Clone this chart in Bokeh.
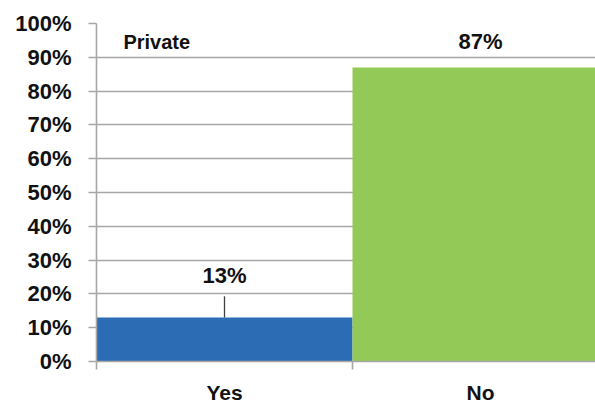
from bokeh.plotting import figure
from bokeh.models import ColumnDataSource, FixedTicker, Range1d, Label
from bokeh.core.properties import value
from bokeh.embed import file_html
from bokeh.resources import INLINE

# ---- data ----
categories = ["Yes", "No"]
percent = [13, 87]
labels = ["13%", "87%"]
panel_title = "Private"
y_ticks = [0, 10, 20, 30, 40, 50, 60, 70, 80, 90, 100]

# ---- styles ----
bar_colors = ["#2b6cb5", "#92c957"]
label_offsets = [-30, -13]
FONT = "Liberation Sans"
GRID = "#a6a6a6"

xs = [i + 0.5 for i in range(len(categories))]

p = figure(width=595, height=406, output_backend="svg", toolbar_location=None,
           x_range=Range1d(0, 499 / 256), y_range=Range1d(0, 100),
           min_border_left=96, min_border_right=0, min_border_top=23, min_border_bottom=40)
p.outline_line_color = None
p.background_fill_color = "white"
p.border_fill_color = "white"

src = ColumnDataSource(dict(x=xs, top=percent, color=bar_colors, label=labels, off=label_offsets))
p.vbar(x="x", top="top", width=1.0, fill_color="color", line_color=None, source=src)

# leader line for first bar
p.segment(x0=[xs[0]], y0=[percent[0]], x1=[xs[0]], y1=[percent[0] + 6.3],
          line_color="#404040", line_width=1.3)

p.text(x="x", y="top", text="label", y_offset="off", source=src,
       text_align="center", text_baseline="bottom",
       text_font=value(FONT), text_font_style="bold", text_font_size="22px",
       text_color="#111111")

p.add_layout(Label(x=0.105, y=94.6, x_units="data", y_units="data",
                   text=panel_title, text_font=FONT, text_font_style="bold",
                   text_font_size="20px", text_color="#111111", text_baseline="alphabetic"))

# grid
p.xgrid.visible = False
p.ygrid.ticker = FixedTicker(ticks=y_ticks)
p.ygrid.grid_line_color = GRID
p.ygrid.grid_line_width = 1.6
p.ygrid.level = "underlay"

# y axis
ya = p.yaxis[0]
ya.ticker = FixedTicker(ticks=y_ticks)
ya.major_label_overrides = {t: f"{t}%" for t in y_ticks}
ya.major_label_text_font = FONT
ya.major_label_text_font_style = "bold"
ya.major_label_text_font_size = "22px"
ya.major_label_text_color = "#111111"
ya.axis_line_color = GRID
ya.axis_line_width = 1.6
ya.major_tick_line_color = GRID
ya.major_tick_line_width = 1.6
ya.major_tick_out = 8
ya.major_tick_in = 0
ya.minor_tick_line_color = None
ya.major_label_standoff = 17

# x axis
xa = p.xaxis[0]
xa.ticker = FixedTicker(ticks=xs, minor_ticks=[0, 1, 2])
xa.major_label_overrides = {x: c for x, c in zip(xs, categories)}
xa.major_label_text_font = FONT
xa.major_label_text_font_style = "bold"
xa.major_label_text_font_size = "21px"
xa.major_label_text_color = "#111111"
xa.axis_line_color = GRID
xa.axis_line_width = 1.6
xa.major_tick_line_color = None
xa.major_tick_out = 0
xa.major_tick_in = 0
xa.minor_tick_line_color = GRID
xa.minor_tick_line_width = 1.6
xa.minor_tick_out = 8
xa.minor_tick_in = 0
xa.major_label_standoff = 11

open("out.html", "w").write(file_html(p, INLINE))
